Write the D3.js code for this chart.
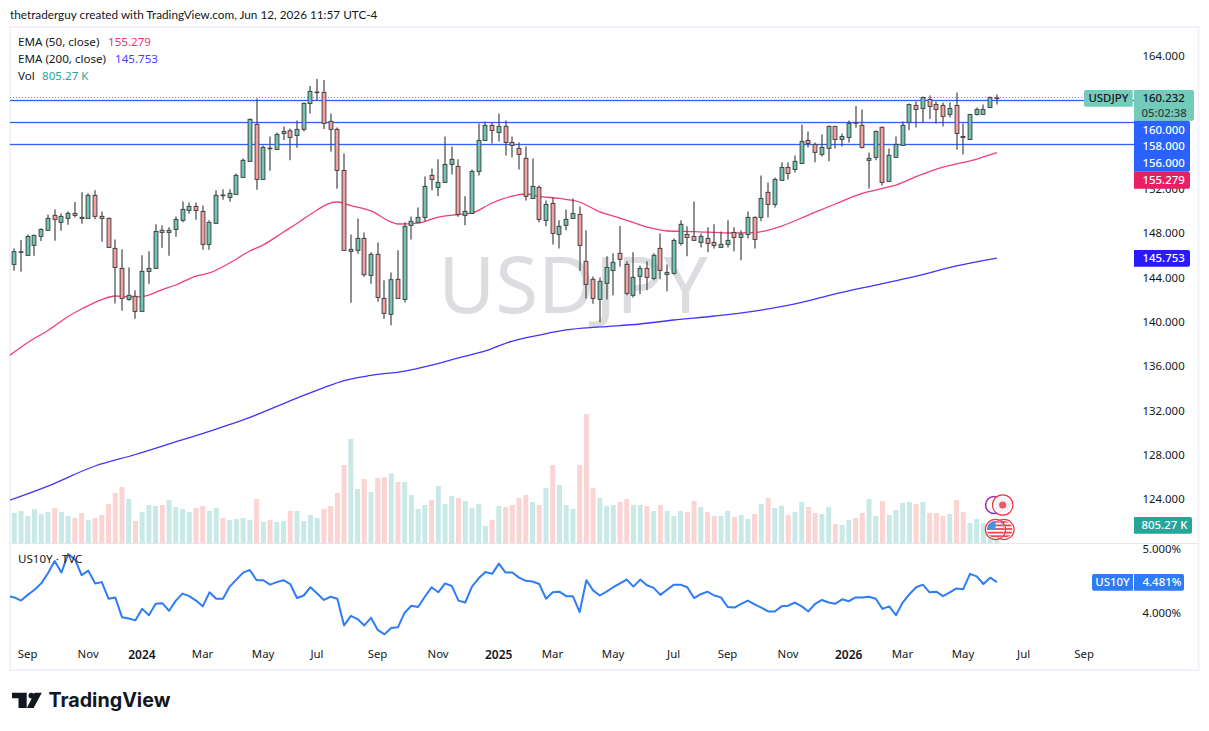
<!DOCTYPE html>
<html>
<head>
<meta charset="utf-8">
<title>USDJPY weekly</title>
<script src="https://cdn.jsdelivr.net/npm/d3@7"></script>
<style>
  html, body { margin: 0; padding: 0; background: #fff; }
  svg { display: block; }
  text { font-family: "Noto Sans", sans-serif; }
</style>
</head>
<body>
<svg id="chart" width="1209" height="731"></svg>
<script>
// Weekly USDJPY candles, first bar is the week of 21 Aug 2023
const firstWeek = "2023-08-21";
const opens = [
145.19,146.28,146.01,146.91,147.72,148.27,149.62,148.99,149.35,149.80,
149.44,149.35,151.43,149.53,149.35,146.64,144.83,142.03,142.31,140.95,
144.56,144.83,148.27,148.08,148.35,149.17,150.07,150.43,149.98,147.00,
148.90,151.46,151.24,151.52,153.05,154.50,157.84,152.87,155.70,155.58,
157.02,157.26,156.84,157.39,159.73,160.73,160.73,158.11,157.39,153.68,
146.37,146.46,147.54,144.20,146.10,142.12,140.68,143.84,142.03,148.72,
148.99,149.44,153.23,152.15,152.60,154.22,154.04,149.62,149.80,153.59,
156.39,157.75,157.11,157.66,156.21,155.67,154.77,151.15,152.15,149.17,
150.70,147.90,148.72,149.35,149.71,145.47,143.84,142.03,143.48,144.65,
146.19,145.19,142.40,144.11,144.83,143.93,146.64,144.29,144.38,147.09,
147.90,147.72,147.18,147.54,147.18,146.73,147.00,148.08,147.63,147.90,
149.44,149.44,151.70,150.61,152.78,153.95,153.77,154.31,156.39,156.03,
155.13,155.67,157.66,156.48,156.66,158.00,157.75,154.59,154.86,157.57,
152.69,154.86,155.94,158.02,159.55,159.28,160.09,159.64,159.55,158.74,
159.55,156.75,156.48,158.74,158.74,159.37,160.18];
const closes = [
146.34,146.34,147.72,147.81,148.35,149.35,149.26,149.53,149.80,149.62,
149.35,151.43,149.53,149.35,146.73,144.92,142.12,142.40,140.95,144.56,
144.83,148.17,148.08,148.27,149.26,150.16,150.43,150.07,147.00,148.99,
151.43,151.40,151.61,153.23,154.59,158.29,152.87,155.76,155.64,156.93,
157.20,156.66,157.39,159.73,160.82,160.76,157.93,157.39,153.68,146.46,
146.55,147.54,144.26,146.10,142.21,140.77,143.81,142.12,148.63,149.08,
149.44,152.24,152.87,152.60,154.22,154.68,149.71,149.98,153.59,156.39,
157.75,157.29,157.66,156.21,155.94,155.13,151.34,152.24,149.26,150.61,
147.99,148.63,149.26,149.80,146.91,143.39,142.12,143.66,144.92,145.38,
145.65,142.58,144.02,144.83,144.02,146.01,144.65,144.47,147.36,148.81,
147.63,147.36,147.72,147.09,146.91,147.00,147.36,147.63,147.93,149.44,
147.45,151.15,150.61,152.87,153.95,153.41,154.50,156.30,156.12,155.31,
155.76,157.66,156.48,156.75,157.93,157.97,155.76,154.77,157.20,152.60,
155.04,156.03,157.75,159.64,159.19,160.27,159.46,159.19,158.56,159.28,
157.02,156.66,158.74,159.19,159.19,160.27,160.232];
const highs = [
146.64,147.39,147.90,147.90,148.45,149.71,150.16,149.80,149.98,150.82,
151.70,151.61,151.88,149.98,149.44,147.45,146.55,144.92,142.85,146.01,
146.37,148.81,148.72,148.54,149.53,150.88,150.79,150.79,150.52,149.17,
151.88,151.97,151.97,153.41,154.77,158.38,160.18,155.94,156.75,157.11,
157.66,157.48,158.20,159.82,161.30,161.94,161.85,158.83,157.57,155.22,
147.90,149.35,148.08,146.28,147.18,143.75,144.47,146.46,148.99,149.53,
150.34,153.14,153.86,154.68,156.75,155.85,154.68,151.34,153.77,157.93,
158.11,158.02,158.83,158.20,156.75,156.21,155.85,154.77,152.33,150.97,
151.24,149.17,150.16,151.15,150.43,148.27,144.11,144.02,145.92,146.19,
148.66,145.47,146.28,145.10,145.47,146.19,147.99,145.19,147.54,149.17,
148.63,150.88,147.99,148.54,148.81,148.17,149.17,148.54,148.27,149.98,
149.53,153.23,152.60,153.05,154.41,154.41,155.04,157.84,157.20,156.21,
156.93,157.75,157.66,157.02,158.20,159.50,159.19,155.31,157.29,157.66,
155.67,156.75,158.11,159.73,159.91,160.36,160.46,159.91,159.82,159.82,
160.73,157.93,158.74,159.37,159.64,160.36,160.55];
const lows = [
144.62,144.53,146.01,145.98,147.30,148.27,147.33,148.23,148.78,149.44,
148.87,149.35,149.26,147.24,146.73,141.67,141.01,141.91,140.29,140.95,
143.45,144.83,146.70,145.98,147.69,148.99,149.77,149.23,146.52,146.52,
148.90,151.03,150.85,151.52,153.05,154.50,151.94,152.87,153.65,155.58,
156.42,154.59,155.73,157.20,158.83,160.00,157.42,155.37,152.03,146.46,
141.73,146.16,144.08,143.45,141.82,140.29,139.69,142.12,141.76,147.45,
148.99,149.08,151.88,151.34,152.60,153.32,149.50,148.72,149.80,153.23,
156.39,156.12,156.30,155.04,154.86,153.77,150.97,151.15,148.99,148.63,
147.00,146.64,148.27,149.35,144.62,142.12,141.64,139.96,142.03,142.40,
145.01,142.40,142.21,142.49,142.85,143.75,143.84,142.76,144.29,146.91,
145.92,147.36,146.73,146.28,146.64,146.73,146.73,146.37,145.56,147.54,
146.64,149.08,149.44,150.34,152.78,152.87,153.50,154.31,155.76,154.41,
154.95,154.50,155.67,155.85,156.21,157.54,155.67,152.06,154.59,152.33,
152.69,154.86,155.94,157.32,157.57,158.02,158.32,157.93,157.66,158.47,
155.55,155.13,156.48,158.65,158.74,159.37,159.64];

// Weekly volume in thousands
const volumes = [
1356,1445,1222,1535,1311,1401,1579,1401,1222,1132,
1356,1043,1132,1267,1758,2250,2518,1982,998,1401,
1714,1669,1714,1937,1624,1535,1401,1579,1669,1445,
1579,1132,1043,1088,1132,1043,1982,954,1043,954,
998,1445,1445,998,1267,1132,1535,1669,2250,3502,
4664,2429,2876,2295,2920,2950,3129,2742,2742,2161,
1535,1714,1937,2563,1758,2116,2026,1892,1579,1758,
775,1043,1669,1624,1714,2026,2161,1848,1714,2473,
3502,2608,1714,1535,3502,5781,2473,2026,1669,1714,
1848,1982,1714,1714,1669,1445,1714,1445,1222,1445,
1401,1892,1624,1401,1222,1222,1445,1177,1267,1088,
1311,1758,2026,1579,1669,1267,1401,1848,1624,1356,
1311,1624,864,820,1043,1132,1356,1982,1222,1892,
1267,1490,1803,1848,1758,1848,1356,1356,1222,1311,
1937,1401,909,1088,909,969,805.27];

// US 10-year yield in percent, one value per week
const yieldBefore = 4.26;
const us10y = [
4.24,4.19,4.28,4.36,4.46,4.62,4.81,4.63,4.92,4.84,
4.59,4.66,4.46,4.48,4.22,4.24,3.93,3.91,3.88,4.06,
3.96,4.14,4.15,4.03,4.19,4.30,4.26,4.19,4.10,4.32,
4.22,4.22,4.41,4.52,4.63,4.67,4.51,4.51,4.44,4.48,
4.51,4.45,4.23,4.27,4.40,4.30,4.20,4.25,4.22,3.80,
3.95,3.90,3.80,3.92,3.73,3.66,3.76,3.77,4.00,4.11,
4.09,4.25,4.40,4.32,4.46,4.42,4.19,4.16,4.41,4.54,
4.64,4.61,4.77,4.63,4.63,4.55,4.50,4.49,4.45,4.22,
4.32,4.33,4.26,4.26,4.01,4.51,4.35,4.27,4.33,4.40,
4.46,4.52,4.41,4.52,4.43,4.39,4.28,4.36,4.44,4.44,
4.40,4.23,4.29,4.33,4.27,4.24,4.09,4.08,4.14,4.19,
4.13,4.08,4.02,4.02,4.10,4.11,4.16,4.10,4.02,4.14,
4.20,4.16,4.14,4.21,4.18,4.24,4.24,4.25,4.22,4.06,
4.10,3.96,4.16,4.29,4.40,4.44,4.32,4.33,4.26,4.32,
4.38,4.37,4.61,4.57,4.45,4.55,4.481];

// Moving averages, read at these bar numbers
const ema50Bars = [-1,2,5,8,10,13,15,17,19,22,24,27,29,32,35,37,40,42,45,47,48,50,53,56,57,60,63,66,68,71,74,76,78,81,84,87,90,94,97,101,106,110,114,118,122,126,129,131,134,138,141,143,146];
const ema50 = [136.83,138.14,139.22,140.49,141.16,142.02,142.34,142.25,142.29,142.92,143.33,144.14,144.42,145.32,146.40,146.95,148.12,148.89,150.11,150.74,150.83,150.51,150.02,149.02,148.84,148.93,149.47,149.70,149.84,150.74,151.37,151.55,151.33,151.15,150.83,149.93,149.38,148.57,148.21,148.16,148.03,148.07,148.66,149.65,150.65,151.60,152.05,152.36,153.13,153.99,154.40,154.71,155.279];
const ema200Bars = [-1,5,12,18,23,30,34,42,46,49,53,58,62,66,70,74,78,82,87,93,98,104,110,116,122,128,134,140,146];
const ema200 = [123.82,125.17,126.98,128.02,128.97,130.32,131.14,133.12,134.07,134.70,135.16,135.56,136.10,136.74,137.37,138.27,138.81,139.27,139.54,139.81,140.17,140.53,140.98,141.62,142.52,143.33,144.14,145.05,145.753];

// Axis contents: 160 and 156 sit under their own level tags, so they get no tick text
const priceTicks = [164,152,148,144,140,136,132,128,124];
const levelLines = [160,158,156];
const yieldTicks = [5,4];
const monthTicks = ["2023-09-04","2023-11-06","2024-01-01","2024-03-04","2024-05-06","2024-07-01","2024-09-02","2024-11-04","2025-01-06","2025-03-03","2025-05-05","2025-07-07","2025-09-01","2025-11-03","2026-01-05","2026-03-02","2026-05-04","2026-07-06","2026-09-07"];
const monthLabels = ["Sep","Nov","2024","Mar","May","Jul","Sep","Nov","2025","Mar","May","Jul","Sep","Nov","2026","Mar","May","Jul","Sep"];

const INK = "#131722";
const TEAL = "#26a69a";
const BLUE = "#2962ff";
const PINK = "#e91e63";
const INDIGO = "#2a19ff";
const YIELD_BLUE = "#2e7cf6";

const weekMs = 7 * 24 * 3600 * 1000;
const startMs = Date.parse(firstWeek + "T00:00:00Z");
const barDate = i => new Date(startMs + i * weekMs);
const x = d3.scaleUtc().domain([barDate(0), barDate(146)]).range([14.3, 996.9]);
const yPrice = d3.scaleLinear().domain([124, 164]).range([499, 56.2]);
const yVolume = d3.scaleLinear().domain([0, d3.max(volumes)]).range([543.3, 414]);
const yYield = d3.scaleLinear().domain([4, 5]).range([612.7, 549]);

const svg = d3.select("#chart");
svg.append("defs").append("clipPath").attr("id", "plot")
  .append("rect").attr("x", 10).attr("y", 27).attr("width", 1124).attr("height", 643);

// Outer frame and pane divider
const FRAME = "#f0f3fa";
svg.append("rect").attr("x", 10).attr("y", 27).attr("width", 1188.5).attr("height", 643)
  .attr("fill", "#fff").attr("stroke", FRAME).attr("stroke-width", 2);
svg.append("line").attr("x1", 10).attr("x2", 1198).attr("y1", 543.5).attr("y2", 543.5)
  .attr("stroke", "#e6e8ee").attr("stroke-width", 1);

// Top caption
svg.append("text").attr("x", 10).attr("y", 19).attr("font-size", 11.75).attr("fill", INK)
  .style("font-family", "Lato, sans-serif")
  .text("thetraderguy created with TradingView.com, Jun 12, 2026 11:57 UTC-4");

const plot = svg.append("g").attr("clip-path", "url(#plot)");

// Symbol watermark
plot.append("text").attr("x", 573).attr("y", 313).attr("text-anchor", "middle")
  .attr("font-size", 78).attr("fill", "#dcdde0").text("USDJPY");

// Volume columns
const isUp = i => closes[i] >= opens[i];
plot.append("g").selectAll("rect").data(volumes).join("rect")
  .attr("x", (d, i) => x(barDate(i)) - 2.5)
  .attr("width", 5)
  .attr("y", d => yVolume(d))
  .attr("height", d => yVolume(0) - yVolume(d))
  .attr("fill", (d, i) => isUp(i) ? "#c8e9e5" : "#fcd4d4");

// Moving averages
const emaLine = bars => d3.line()
  .x((d, i) => x(barDate(bars[i])))
  .y(d => yPrice(d))
  .curve(d3.curveMonotoneX);
plot.append("path").attr("d", emaLine(ema200Bars)(ema200))
  .attr("fill", "none").attr("stroke", "#4433ff").attr("stroke-width", 1.3);

// Horizontal levels and last-price line
plot.append("g").selectAll("rect").data(levelLines).join("rect")
  .attr("x", 10).attr("width", 1124)
  .attr("y", d => Math.floor(yPrice(d)) - 0.15).attr("height", 1.3)
  .attr("fill", BLUE);
const lastClose = closes[closes.length - 1];
plot.append("line").attr("x1", 10).attr("x2", 1084)
  .attr("y1", Math.floor(yPrice(lastClose)) + 0.5).attr("y2", Math.floor(yPrice(lastClose)) + 0.5)
  .attr("stroke", "#2fb8a5").attr("stroke-width", 1).attr("stroke-dasharray", "1 2");

plot.append("path").attr("d", emaLine(ema50Bars)(ema50))
  .attr("fill", "none").attr("stroke", "#f23e78").attr("stroke-width", 1.3);

// Candles
const candles = plot.append("g").selectAll("g").data(opens).join("g");
candles.append("line")
  .attr("x1", (d, i) => Math.round(x(barDate(i))))
  .attr("x2", (d, i) => Math.round(x(barDate(i))))
  .attr("y1", (d, i) => yPrice(highs[i]))
  .attr("y2", (d, i) => yPrice(lows[i]))
  .attr("stroke", "#454545").attr("stroke-width", 1.2);
candles.append("rect")
  .attr("x", (d, i) => Math.round(x(barDate(i))) - 1.9)
  .attr("width", 3.8)
  .attr("y", (d, i) => yPrice(Math.max(opens[i], closes[i])))
  .attr("height", (d, i) => Math.max(0.6, Math.abs(yPrice(opens[i]) - yPrice(closes[i]))))
  .attr("fill", (d, i) => isUp(i) ? "#6dc7b4" : "#f8a0a0")
  .attr("stroke", "#454545").attr("stroke-width", 1);

// US 10-year yield pane
const yieldSeries = [[-1, yieldBefore]].concat(us10y.map((v, i) => [i, v]));
plot.append("path")
  .attr("d", d3.line().x(d => x(barDate(d[0]))).y(d => yYield(d[1]))(yieldSeries))
  .attr("fill", "none").attr("stroke", YIELD_BLUE).attr("stroke-width", 2)
  .attr("stroke-linejoin", "round");
svg.append("text").attr("x", 18).attr("y", 563).attr("font-size", 11.6).attr("fill", INK)
  .text("US10Y · TVC");

// Legend rows
const legendRows = [
  { y: 45.5, name: "EMA (50, close)", nameEnd: 108, value: "155.279", color: "#f0326f" },
  { y: 63, name: "EMA (200, close)", nameEnd: 115, value: "145.753", color: "#4a3dff" },
  { y: 80, name: "Vol", nameEnd: 42, value: "805.27 K", color: TEAL }
];
const legend = svg.append("g").attr("font-size", 11.6);
legend.selectAll("text.name").data(legendRows).join("text").attr("class", "name")
  .attr("x", 18).attr("y", d => d.y).attr("fill", INK).text(d => d.name);
legend.selectAll("text.value").data(legendRows).join("text").attr("class", "value")
  .attr("x", d => d.nameEnd).attr("y", d => d.y).attr("fill", d => d.color).text(d => d.value);

// Price and yield axes
const axisFont = 11.4;
const priceAxis = svg.append("g").attr("transform", "translate(1142.5,0)")
  .call(d3.axisRight(yPrice).tickValues(priceTicks).tickSize(0).tickPadding(0).tickFormat(d3.format(".3f")));
const yieldAxis = svg.append("g").attr("transform", "translate(1142.5,0)")
  .call(d3.axisRight(yYield).tickValues(yieldTicks).tickSize(0).tickPadding(0).tickFormat(d => d3.format(".3f")(d) + "%"));
const timeAxis = svg.append("g").attr("transform", "translate(-0.7,650)")
  .call(d3.axisBottom(x).tickValues(monthTicks.map(d => new Date(d + "T00:00:00Z")))
    .tickSize(0).tickPadding(0).tickFormat((d, i) => monthLabels[i]));
[priceAxis, yieldAxis, timeAxis].forEach(a => {
  a.select(".domain").remove();
  a.selectAll("text").attr("font-size", axisFont).attr("fill", INK)
    .style("font-family", '"Noto Sans", sans-serif');
});
timeAxis.selectAll("text").filter((d, i) => /^\d{4}$/.test(monthLabels[i]))
  .attr("font-weight", 600).attr("font-size", 12);

// Value tags on the right
function tag(x0, x1, y0, y1, fill, rounded) {
  svg.append("path").attr("fill", fill).attr("d", rounded === "left"
    ? `M${x1},${y0}H${x0 + 2}Q${x0},${y0} ${x0},${y0 + 2}V${y1 - 2}Q${x0},${y1} ${x0 + 2},${y1}H${x1}Z`
    : `M${x0},${y0}H${x1 - 2}Q${x1},${y0} ${x1},${y0 + 2}V${y1 - 2}Q${x1},${y1} ${x1 - 2},${y1}H${x0}Z`);
}
function tagText(xPos, yPos, str, color, anchor) {
  svg.append("text").attr("x", xPos).attr("y", yPos).attr("dy", "0.35em")
    .attr("font-size", axisFont).attr("fill", color).attr("font-weight", 500)
    .attr("text-anchor", anchor || "start").text(str);
}
const MINT = "#72ccb9";
tag(1084, 1132.7, 90, 106.7, MINT, "left");
tagText(1108.4, 98.3, "USDJPY", INK, "middle");
tag(1134, 1194, 90, 120.7, MINT);
tagText(1142.5, 98.5, d3.format(".3f")(lastClose), INK);
tagText(1141.5, 113, "05:02:38", "#33403e");

tag(1134, 1190, 120.7, 171.7, BLUE);
[[160, 129.7], [158, 146.5], [156, 163.5]].forEach(([level, yPos]) =>
  tagText(1142.5, yPos, d3.format(".3f")(level), "#fff"));
tag(1134, 1190, 171.7, 188.7, PINK);
tagText(1142.5, 180, d3.format(".3f")(ema50[ema50.length - 1]), "#fff");
tag(1134, 1190, 250, 266.7, INDIGO);
tagText(1142.5, 258.3, d3.format(".3f")(ema200[ema200.length - 1]), "#fff");

tag(1134, 1192, 517, 533.7, TEAL);
tagText(1141.5, 525.5, "805.27 K", "#fff");

const lastYield = us10y[us10y.length - 1];
tag(1092, 1133, 574, 590.7, YIELD_BLUE, "left");
tagText(1112.5, 582.5, "US10Y", "#fff", "middle");
tag(1134, 1184, 574, 590.7, YIELD_BLUE);
tagText(1142.5, 582.5, d3.format(".3f")(lastYield) + "%", "#fff");

// Event markers beside the newest bars
const markers = svg.append("g");
markers.append("circle").attr("cx", 994).attr("cy", 505).attr("r", 8.4)
  .attr("fill", "#fff").attr("stroke", "#9c27b0").attr("stroke-width", 1.5);
markers.append("circle").attr("cx", 1002.7).attr("cy", 505).attr("r", 10.2).attr("fill", "#fff").attr("stroke", "#f23645").attr("stroke-width", 1.2);
markers.append("circle").attr("cx", 1002.7).attr("cy", 505).attr("r", 7.6).attr("fill", "#f0f3fa");
markers.append("circle").attr("cx", 1002.7).attr("cy", 505).attr("r", 3.6).attr("fill", "#f7525f");

function usFlag(cx, cy, id) {
  const r = 8.6;
  const g = markers.append("g");
  g.append("clipPath").attr("id", id).append("circle").attr("cx", cx).attr("cy", cy).attr("r", r);
  const flag = g.append("g").attr("clip-path", `url(#${id})`);
  flag.append("rect").attr("x", cx - r).attr("y", cy - r).attr("width", 2 * r).attr("height", 2 * r).attr("fill", "#fff");
  flag.selectAll("rect.stripe").data(d3.range(5)).join("rect").attr("class", "stripe")
    .attr("x", cx - r).attr("width", 2 * r).attr("y", d => cy - r + d * 3.6).attr("height", 1.8).attr("fill", "#f0474f");
  flag.append("rect").attr("x", cx - r).attr("y", cy - r).attr("width", r).attr("height", r * 0.95).attr("fill", "#4a90e8");
  g.append("circle").attr("cx", cx).attr("cy", cy).attr("r", 9.8).attr("fill", "none").attr("stroke", "#fff").attr("stroke-width", 0.6);
  g.append("circle").attr("cx", cx).attr("cy", cy).attr("r", 10.1).attr("fill", "none").attr("stroke", "#f23645").attr("stroke-width", 1.2);
}
usFlag(1004, 529.5, "flagBack");
usFlag(995.5, 529.5, "flagFront");

// Wordmark
const logo = svg.append("g").attr("fill", "#131722");
logo.append("path").attr("d", "M12,692.7H26.7V708H18.5V698.2H12Z");
logo.append("circle").attr("cx", 31.4).attr("cy", 695.6).attr("r", 2.9);
logo.append("path").attr("d", "M34.5,692.7H41.8L33.6,708H26.9Z");
logo.append("text").attr("x", 48.5).attr("y", 706.5).attr("font-size", 19.7).attr("font-weight", 700)
  .style("font-family", "Inter, sans-serif").text("TradingView");
</script>
</body>
</html>
